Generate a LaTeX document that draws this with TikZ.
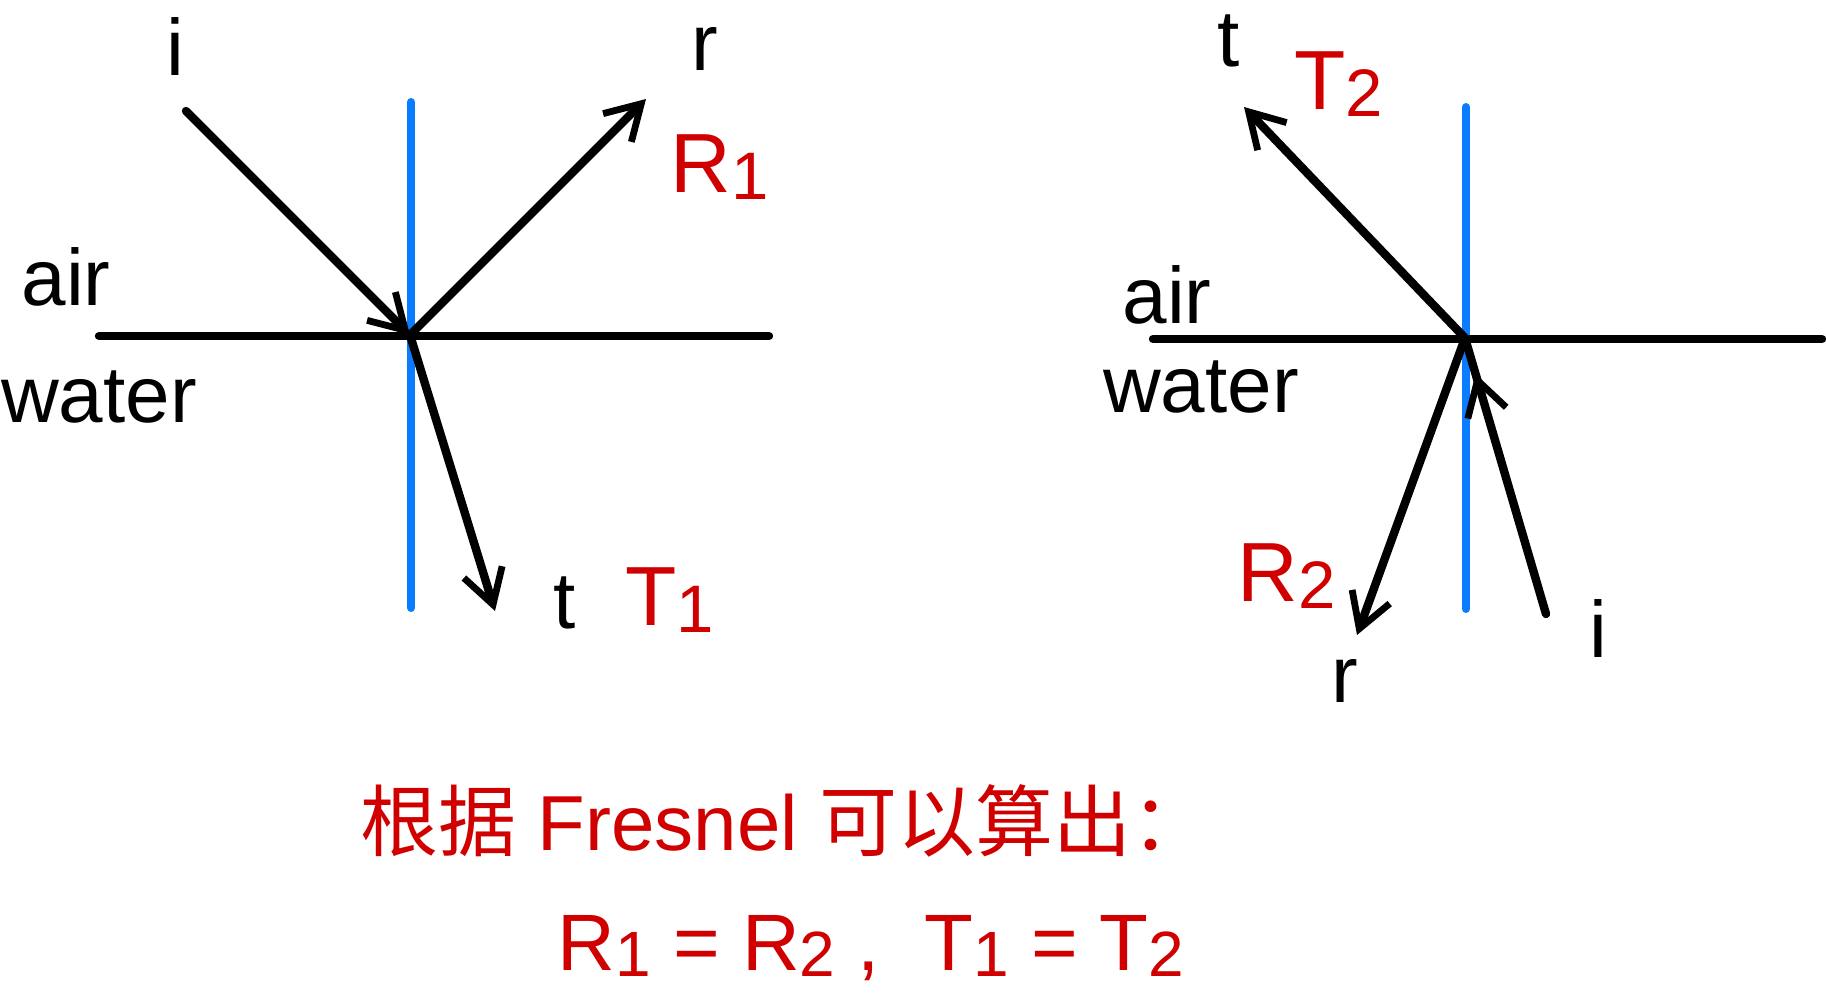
\documentclass[tikz,border=0pt]{standalone}
\usepackage{fontspec}
\setmainfont{Liberation Sans}
\newfontfamily\cjk{Noto Sans CJK SC}
\usetikzlibrary{arrows.meta,decorations.markings}
\definecolor{inkred}{RGB}{208,0,0}
\definecolor{normblue}{RGB}{10,124,255}
\tikzset{
  ray/.style={line width=4.2pt, line cap=round, black},
  tip/.style={-{Straight Barb[length=17pt,width=20pt,line width=3.4pt]}},
  surf/.style={line width=4.2pt, line cap=round, black},
  normal/.style={line width=4pt, line cap=round, normblue},
  lbl/.style={font=\fontsize{40}{44}\selectfont, inner sep=0pt},
  rlbl/.style={font=\fontsize{42}{46}\selectfont, text=inkred, inner sep=0pt},
}
\newcommand{\sub}[1]{\raisebox{-0.15ex}{\scalebox{0.8}{#1}}}
\begin{document}
\begin{tikzpicture}[x=0.5pt,y=-0.5pt]
\useasboundingbox (0,0) rectangle (1826,999);
% ---------- left diagram ----------
\coordinate (O1) at (410,335);
\coordinate (hl1) at (99,336);
\coordinate (hr1) at (769,336);
\coordinate (nt1) at (411,102);
\coordinate (nb1) at (411,608);
\coordinate (i1) at (186,111);
\coordinate (r1) at (646,99);
\coordinate (t1) at (495,611);
\draw[normal] (nt1) -- (nb1);
\draw[surf] (hl1) -- (hr1);
\draw[ray,tip] (i1) -- (O1);
\draw[ray,tip] (O1) -- (r1);
\draw[ray,tip] (O1) -- (t1);
\node[lbl] (li1) at (175,47) {i};
\node[lbl] (lr1) at (705,49) {r};
\node[rlbl] (lR1) at (720,167) {R\sub{1}};
\node[lbl] (lair1) at (66,277) {air};
\node[lbl] (lwat1) at (99,397) {water};
\node[lbl] (lt1) at (565,603) {t};
\node[rlbl] (lT1) at (670,600) {T\sub{1}};
% ---------- right diagram ----------
\coordinate (O2) at (1465,338);
\coordinate (hl2) at (1153,339);
\coordinate (hr2) at (1822,339);
\coordinate (nt2) at (1466,107);
\coordinate (nb2) at (1466,609);
\coordinate (t2) at (1244,107);
\coordinate (i2) at (1546,614);
\coordinate (r2) at (1357,635);
\draw[normal] (nt2) -- (nb2);
\draw[surf] (hl2) -- (hr2);
\draw[ray,tip] (O2) -- (t2);
\draw[ray,tip] (O2) -- (r2);
\draw[ray,postaction={decorate},decoration={markings,
  mark=at position 0.87 with {\arrow{Straight Barb[length=17pt,width=20pt,line width=3.4pt]}}}] (i2) -- (O2);
\node[lbl] (lt2) at (1229,41) {t};
\node[rlbl] (lT2) at (1339,84) {T\sub{2}};
\node[lbl] (lair2) at (1167,295) {air};
\node[lbl] (lwat2) at (1201,387) {water};
\node[rlbl] (lR2) at (1287,576) {R\sub{2}};
\node[lbl] (lr2) at (1345,681) {r};
\node[lbl] (li2) at (1598,629) {i};
% ---------- conclusion ----------
\node[inner sep=0pt, text=inkred, font=\fontsize{39}{43}\selectfont] (conc) at (785,821)
  {{\cjk 根据} Fresnel {\cjk 可以算出：}};
\node[inner sep=0pt, text=inkred, font=\fontsize{40}{44}\selectfont] (eq) at (871,948)
  {R\sub{1} = R\sub{2} ,\ \ T\sub{1} = T\sub{2}};
\end{tikzpicture}
\end{document}
